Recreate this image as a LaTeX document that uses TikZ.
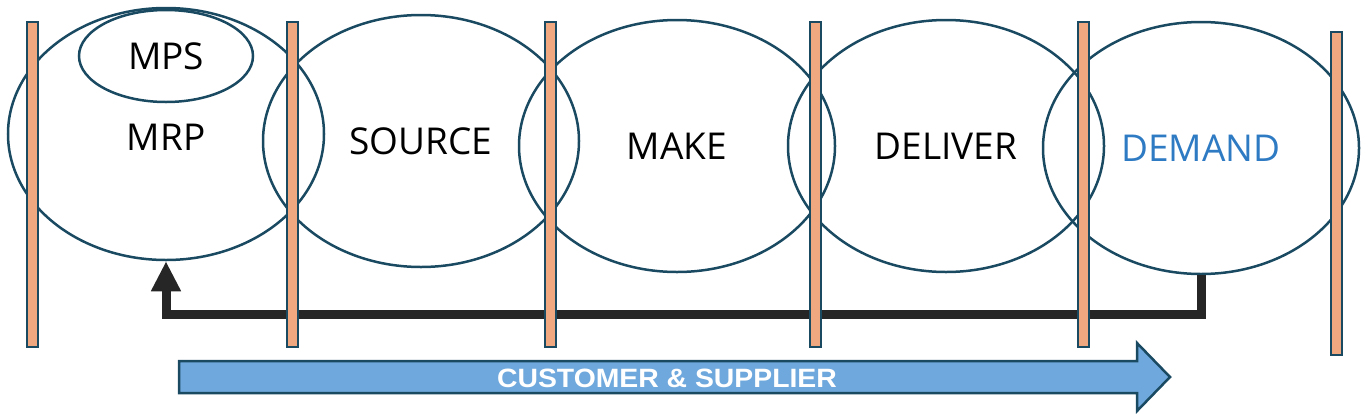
\documentclass[tikz,border=0pt]{standalone}
\usepackage{fontspec}
\setmainfont{Open Sans}
\newfontfamily\arrowfont{Liberation Sans}
\usepackage{tikz}
\usetikzlibrary{arrows.meta,shapes.geometric}

\definecolor{ringline}{RGB}{26,74,98}
\definecolor{barfill}{RGB}{240,168,128}
\definecolor{flowfill}{RGB}{111,168,220}
\definecolor{demandblue}{RGB}{46,122,195}
\definecolor{loopline}{RGB}{38,38,38}

\tikzset{
  stage/.style={ellipse,draw=ringline,line width=2.5pt,inner sep=0pt,
    minimum width=316pt,minimum height=252pt,
    font=\fontsize{37}{40}\selectfont},
  bar/.style={rectangle,draw=ringline,fill=barfill,line width=2pt,
    inner sep=0pt,minimum width=11pt,minimum height=325pt},
  feedback/.style={draw=loopline,line width=9pt,
    -{Triangle[length=30pt,width=28pt]}}
}

\begin{document}
\begin{tikzpicture}[x=1pt,y=-1pt]
	  \useasboundingbox (0,0) rectangle (1368,413);
	  % Draw the five stages
	  \node[stage] (mrp) at (166,134) {};
	  \node[stage] (source) at (421,141) {SOURCE};
	  \node[stage] (make) at (677,146) {MAKE};
	  \node[stage] (deliver) at (946,146) {DELIVER};
	  \node[stage,text=demandblue] (demand) at (1201,148) {DEMAND};
	  % MPS sits inside MRP
	  \node[stage,minimum width=174pt,minimum height=92pt] (mps) at (166,56) {MPS};
	  \node[font=\fontsize{37}{40}\selectfont] (mrptext) at (166,137) {MRP};
	  % Feedback from demand back to planning
	  \draw[feedback] (demand.south) -- ++(0,39) -| (mrp.south);
	  % Draw the separating bars
	  \node[bar] (bar1) at (32,184.5) {};
	  \node[bar] (bar2) at (292,184.5) {};
	  \node[bar] (bar3) at (550,184.5) {};
	  \node[bar] (bar4) at (815,184.5) {};
	  \node[bar] (bar5) at (1083,184.5) {};
	  \node[bar,minimum height=323pt] (bar6) at (1336,193.5) {};
	  % Customer and supplier flow
	  \draw[draw=ringline,fill=flowfill,line width=2.5pt,line join=miter]
	      (179,361) -- (1137,361) -- (1137,343) -- (1170,377)
	      -- (1137,411) -- (1137,393) -- (179,393) -- cycle;
	  \node[text=white,font=\arrowfont\bfseries\fontsize{26.5}{28}\selectfont]
	      (flowtext) at (667,378) {\scalebox{1.07}[1]{CUSTOMER \& SUPPLIER}};
      \end{tikzpicture}
\end{document}
